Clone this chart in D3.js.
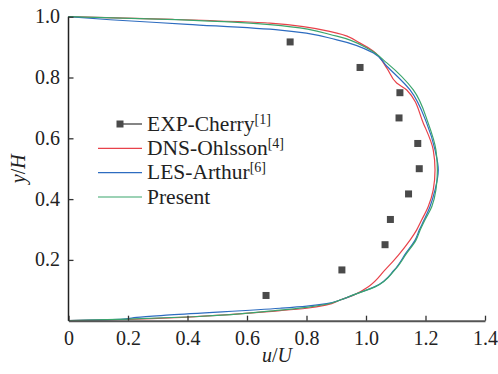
<!DOCTYPE html>
<html>
<head>
<meta charset="utf-8">
<script src="https://cdn.jsdelivr.net/npm/d3@7"></script>
<style>
  html, body { margin: 0; padding: 0; background: #fff; }
  svg { display: block; }
  svg text { font-family: "Liberation Serif", "Times New Roman", Times, "DejaVu Serif", serif; fill: #222; }
</style>
</head>
<body>
<svg id="chart" width="498" height="374"></svg>
<script>
// ---- data ----
const expU = [0.664, 0.919, 1.064, 1.082, 1.143, 1.179, 1.174, 1.111, 1.114, 0.980, 0.745];
const expY = [0.083, 0.167, 0.250, 0.333, 0.417, 0.500, 0.583, 0.667, 0.750, 0.833, 0.917];

const dnsU = [0, 0.20, 0.40, 0.711, 0.801, 0.868, 0.913, 0.960, 1.008, 1.064, 1.109, 1.148, 1.170, 1.187, 1.209, 1.226, 1.232, 1.226, 1.193, 1.137, 1.103, 1.070, 1.025, 0.980, 0.902, 0.677, 0.35, 0];
const dnsY = [0, 0.004, 0.012, 0.033, 0.041, 0.052, 0.068, 0.085, 0.112, 0.167, 0.216, 0.265, 0.298, 0.331, 0.375, 0.430, 0.496, 0.562, 0.649, 0.759, 0.782, 0.831, 0.886, 0.913, 0.946, 0.979, 0.991, 1];

const lesU = [0, 0.184, 0.229, 0.341, 0.711, 0.801, 0.868, 0.913, 0.958, 1.030, 1.095, 1.134, 1.165, 1.179, 1.195, 1.215, 1.232, 1.243, 1.232, 1.204, 1.148, 1.070, 1.025, 0.902, 0.711, 0.40, 0.14, 0];
const lesY = [0, 0.005, 0.011, 0.019, 0.041, 0.048, 0.056, 0.068, 0.085, 0.112, 0.167, 0.222, 0.265, 0.298, 0.331, 0.375, 0.430, 0.496, 0.562, 0.650, 0.759, 0.837, 0.881, 0.924, 0.956, 0.975, 0.990, 1];

const presU = [0, 0.196, 0.42, 0.711, 0.801, 0.868, 0.913, 0.958, 1.032, 1.097, 1.137, 1.168, 1.182, 1.198, 1.221, 1.235, 1.240, 1.235, 1.209, 1.159, 1.070, 1.013, 0.902, 0.677, 0.30, 0];
const presY = [0, 0.005, 0.013, 0.035, 0.044, 0.054, 0.068, 0.085, 0.112, 0.167, 0.222, 0.265, 0.298, 0.331, 0.375, 0.430, 0.496, 0.562, 0.650, 0.759, 0.848, 0.891, 0.936, 0.974, 0.992, 1];

const xTicks = [0, 0.2, 0.4, 0.6, 0.8, 1.0, 1.2, 1.4];
const xTickLabels = ["0", "0.2", "0.4", "0.6", "0.8", "1.0", "1.2", "1.4"];
const yTicks = [0.2, 0.4, 0.6, 0.8, 1.0];
const yTickLabels = ["0.2", "0.4", "0.6", "0.8", "1.0"];

const seriesNames = ["EXP-Cherry", "DNS-Ohlsson", "LES-Arthur", "Present"];
const seriesRefs = ["[1]", "[4]", "[6]", ""];

// ---- layout ----
const FONT = '"Liberation Serif", "Times New Roman", Times, "DejaVu Serif", serif';
const svg = d3.select("#chart").attr("font-family", FONT);
const x = d3.scaleLinear().domain([0, 1.4]).range([68.5, 485]);
const y = d3.scaleLinear().domain([0, 1]).range([320.7, 16.7]);
const colors = { dns: "#e8424a", les: "#2d6cc0", pres: "#3aa56c", exp: "#4a4a4a" };

// curves
const line = d3.line().x(d => x(d[0])).y(d => y(d[1])).curve(d3.curveMonotoneY);
const curves = [
  { u: dnsU, v: dnsY, c: colors.dns },
  { u: lesU, v: lesY, c: colors.les },
  { u: presU, v: presY, c: colors.pres }
];
curves.forEach(s => {
  svg.append("path")
    .datum(s.u.map((u, i) => [u, s.v[i]]))
    .attr("d", line)
    .attr("fill", "none")
    .attr("stroke", s.c)
    .attr("stroke-width", 1.2);
});

// exp squares
const sq = 7;
svg.append("g").selectAll("rect")
  .data(expU.map((u, i) => [u, expY[i]]))
  .join("rect")
  .attr("x", d => x(d[0]) - sq / 2)
  .attr("y", d => y(d[1]) - sq / 2)
  .attr("width", sq).attr("height", sq)
  .attr("fill", colors.exp);

// axes
const xAxis = d3.axisBottom(x).tickValues(xTicks).tickSizeInner(-5).tickSizeOuter(0)
  .tickFormat((d, i) => xTickLabels[i]);
const gx = svg.append("g").attr("transform", `translate(0,${y(0)})`).call(xAxis)
  .attr("font-family", FONT).attr("font-size", 20);
gx.select(".domain").attr("stroke", "#555").attr("stroke-width", 2);
gx.selectAll(".tick line").attr("stroke", "#333").attr("stroke-width", 1.3);
gx.selectAll(".tick text")
  .attr("y", 24.3).attr("dy", null)
  .style("font-family", FONT)
  .style("font-size", "20px").attr("fill", "#222");

const yAxis = d3.axisLeft(y).tickValues(yTicks).tickSizeInner(-5).tickSizeOuter(0)
  .tickFormat((d, i) => yTickLabels[i]);
const gy = svg.append("g").attr("transform", `translate(${x(0)},0)`).call(yAxis)
  .attr("font-family", FONT).attr("font-size", 20);
gy.select(".domain").attr("stroke", "#222").attr("stroke-width", 1.5)
  .attr("d", `M0,${y(0)}V${y(1)}`);
gy.selectAll(".tick line").attr("stroke", "#333").attr("stroke-width", 1.3);
gy.selectAll(".tick text")
  .attr("x", -8.5).attr("dy", "0.3em")
  .style("font-family", FONT)
  .style("font-size", "20px").attr("fill", "#222");

// axis titles
const xt = svg.append("text").attr("x", 277).attr("y", 362)
  .attr("text-anchor", "middle").style("font-size", "20px");
xt.append("tspan").attr("font-style", "italic").text("u");
xt.append("tspan").text("/");
xt.append("tspan").attr("font-style", "italic").text("U");

const yt = svg.append("text").attr("transform", `translate(25,${(y(0) + y(1)) / 2}) rotate(-90)`)
  .attr("text-anchor", "middle").style("font-size", "20px");
yt.append("tspan").attr("font-style", "italic").text("y");
yt.append("tspan").text("/");
yt.append("tspan").attr("font-style", "italic").text("H");

// legend
const legRows = [124, 148.3, 172.7, 197];
const legColors = [colors.exp, colors.dns, colors.les, colors.pres];
const leg = svg.append("g");
seriesNames.forEach((name, i) => {
  const cy = legRows[i];
  if (i === 0) {
    leg.append("line").attr("x1", 120).attr("x2", 142).attr("y1", cy).attr("y2", cy)
      .attr("stroke", "#333").attr("stroke-width", 1.2);
    leg.append("rect").attr("x", 120 - sq / 2).attr("y", cy - sq / 2)
      .attr("width", sq).attr("height", sq).attr("fill", colors.exp);
  } else {
    leg.append("line").attr("x1", 98).attr("x2", 142).attr("y1", cy).attr("y2", cy)
      .attr("stroke", legColors[i]).attr("stroke-width", 1.2);
  }
  const t = leg.append("text").attr("x", 147).attr("y", cy + 6.7).style("font-size", "21.5px");
  t.append("tspan").text(name);
  if (seriesRefs[i]) {
    t.append("tspan").attr("dy", -7).style("font-size", "14px").text(seriesRefs[i]);
  }
});
</script>
</body>
</html>
